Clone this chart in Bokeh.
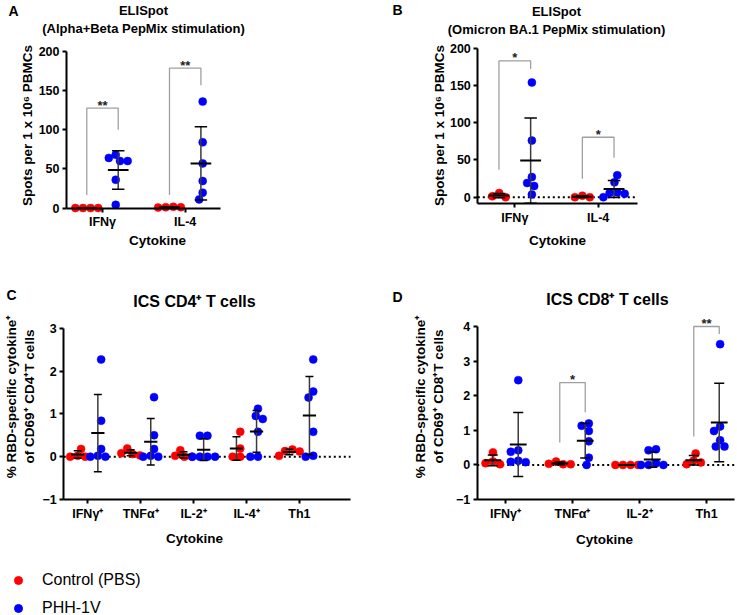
import math
import numpy as np
from bokeh.plotting import figure
from bokeh.models import (ColumnDataSource, Label, FixedTicker, Range1d,
                          Legend, LegendItem)
from bokeh.layouts import column, row
from bokeh.core.properties import value
from bokeh.embed import file_html
from bokeh.resources import INLINE

# ---------------- data ----------------
groups = ["Control (PBS)", "PHH-1V"]

# A: ELISpot, Alpha+Beta PepMix
a_categories = ["IFNγ", "IL-4"]
a_ifng_pbs = [0, 0, 0, 0]
a_ifng_phh = [60, 68, 60, 64, 36, 4]
a_il4_pbs = [1, 0.5, 1.5, 1]
a_il4_phh = [136, 84, 57, 34.5, 19.6, 11]
a_yticks = [0, 50, 100, 150, 200]
a_sig_cat = [1, 2]
a_sig_top = [127.7, 178.7]
a_sig_left = [16.6, 16.6]
a_sig_right = [100, 157]
a_sig_text = ["**", "**"]

# B: ELISpot, Omicron BA.1 PepMix
b_categories = ["IFNγ", "IL-4"]
b_ifng_pbs = [0, 5.5, 1.2]
b_ifng_phh = [154, 76, 27, 19, 15, 3.6]
b_il4_pbs = [0, 2, 0]
b_il4_phh = [29.5, 20, 6.3, 5.8, 4.5, 0]
b_yticks = [0, 50, 100, 150, 200]
b_sig_cat = [1, 2]
b_sig_top = [183, 80.5]
b_sig_left = [36.7, 24.6]
b_sig_right = [172, 52.8]
b_sig_text = ["*", "*"]

# C: ICS CD4+ T cells
c_categories = ["IFNγ⁺", "TNFα⁺", "IL-2⁺", "IL-4⁺", "Th1"]
c_ifng_pbs = [0, 0.18, 0.02, 0]
c_ifng_phh = [2.27, 0.84, 0.18, 0.02, 0, 0]
c_tnfa_pbs = [0.19, 0.03, 0.06, 0.08]
c_tnfa_phh = [1.39, 0.5, 0.18, 0.02, 0, 0]
c_il2_pbs = [0.15, 0, 0.02, 0]
c_il2_phh = [0.49, 0.49, 0, 0, 0, 0]
c_il4_pbs = [0.58, 0.19, 0, 0]
c_il4_phh = [1.12, 0.95, 0.88, 0.58, 0, 0]
c_th1_pbs = [0.17, 0.13, 0.02, 0.12]
c_th1_phh = [2.27, 1.52, 1.38, 0.58, 0.02, 0]
c_yticks = [-1, 0, 1, 2, 3]

# D: ICS CD8+ T cells
d_categories = ["IFNγ⁺", "TNFα⁺", "IL-2⁺", "Th1"]
d_ifng_pbs = [0.36, 0.1, 0.02, 0.05]
d_ifng_phh = [2.45, 0.42, 0.38, 0.12, 0.08, 0.09]
d_tnfa_pbs = [0.1, 0.02, 0.03, 0.02]
d_tnfa_phh = [1.2, 1.13, 0.98, 0.68, 0.21, 0.0]
d_il2_pbs = [0, 0, 0, 0]
d_il2_phh = [0.45, 0.42, 0.05, 0, 0, 0]
d_th1_pbs = [0.33, 0.12, 0.02, 0.07]
d_th1_phh = [3.49, 1.11, 0.98, 0.71, 0.53, 0.53]
d_yticks = [-1, 0, 1, 2, 3, 4]
d_sig_cat = [2, 4]
d_sig_top = [2.38, 4.0]
d_sig_left = [0.65, 0.82]
d_sig_right = [1.52, 3.78]
d_sig_text = ["*", "**"]

# ---------------- styling ----------------
RED = "#ff0000"
BLUE = "#0000ff"
FONT = "Liberation Sans"
GROUP_OFF = 0.19
DOT = 8


def swarm_offsets(vals, ypx, d):
    n = len(vals)
    order = sorted(range(n), key=lambda i: -vals[i])
    placed = []
    offs = [0.0] * n
    for i in order:
        y = vals[i] * ypx
        cands = [0.0]
        for xj, yj in placed:
            dy = abs(y - yj)
            if dy < d:
                dx = math.sqrt(d * d - dy * dy)
                cands += [xj - dx, xj + dx]
        cands.sort(key=lambda c: (abs(c), c))
        for c in cands:
            if all((c - xj) ** 2 + (y - yj) ** 2 >= d * d - 1e-6 for xj, yj in placed):
                offs[i] = c
                break
        placed.append((offs[i], y))
    shift = (max(offs) + min(offs)) / 2
    return [o - shift for o in offs]


def build_panel(spec):
    ox, oy, w, h = spec["box"]
    xpx, tick1 = spec["xpx"], spec["tick1"]
    ypx, yzero = spec["ypx"], spec["yzero"]
    x_start = 1 - (tick1 - ox) / xpx
    x_end = x_start + w / xpx
    y_end = (yzero - oy) / ypx
    y_start = y_end - h / ypx
    yaxis_x = 1 - (tick1 - spec["axis_left"]) / xpx
    xaxis_end = 1 + (spec["axis_right"] - tick1) / xpx
    ylo, yhi = spec["ybounds"]

    p = figure(width=w, height=h, output_backend="svg", toolbar_location=None,
               x_range=Range1d(x_start, x_end), y_range=Range1d(y_start, y_end),
               min_border=0, title=None)
    p.outline_line_color = None
    p.grid.visible = False
    p.background_fill_color = "white"
    p.border_fill_color = "white"

    for ax in (p.xaxis[0], p.yaxis[0]):
        ax.axis_line_width = 2
        ax.axis_line_color = "black"
        ax.major_tick_line_width = 2
        ax.major_tick_line_color = "black"
        ax.major_tick_in = 0
        ax.major_tick_out = 4
        ax.minor_tick_line_color = None
        ax.major_label_text_font = FONT
        ax.major_label_text_font_style = "bold"
        ax.major_label_text_font_size = "12.5px"
        ax.major_label_text_color = "black"
        ax.major_label_standoff = 3
    cats = spec["cats"]
    p.xaxis.ticker = FixedTicker(ticks=list(range(1, len(cats) + 1)))
    p.xaxis.major_label_overrides = {i + 1: c for i, c in enumerate(cats)}
    p.xaxis.fixed_location = ylo
    p.xaxis.bounds = (yaxis_x, xaxis_end)
    p.yaxis.ticker = FixedTicker(ticks=spec["yticks"])
    p.yaxis.fixed_location = yaxis_x
    p.yaxis.bounds = (ylo, yhi)

    if spec["zero"]:
        p.segment(x0=[yaxis_x], y0=[0], x1=[xaxis_end], y1=[0], line_color="black",
                  line_width=2, line_dash="2 3", level="underlay")

    # points
    eb = dict(xg=[], mean=[], lo=[], hi=[])
    for gi, (color, off) in enumerate([(RED, -GROUP_OFF), (BLUE, GROUP_OFF)]):
        xs, ys = [], []
        for ci, pair in enumerate(spec["data"]):
            vals = pair[gi]
            xc = ci + 1 + off
            so = swarm_offsets(vals, ypx, DOT * 0.95)
            xs += [xc + s / xpx for s in so]
            ys += list(vals)
            arr = np.array(vals, dtype=float)
            m = float(arr.mean())
            sd = float(arr.std(ddof=1))
            eb["xg"].append(xc)
            eb["mean"].append(m)
            eb["lo"].append(m - sd)
            eb["hi"].append(m + sd)
        p.scatter(x=xs, y=ys, size=DOT, fill_color=color, line_color=color, line_width=0.5)

    src = ColumnDataSource(dict(
        xg=eb["xg"], mean=eb["mean"], lo=eb["lo"], hi=eb["hi"],
        xm0=[x - 0.125 for x in eb["xg"]], xm1=[x + 0.125 for x in eb["xg"]],
        xc0=[x - 0.075 for x in eb["xg"]], xc1=[x + 0.075 for x in eb["xg"]],
    ))
    p.segment(x0="xg", y0="lo", x1="xg", y1="hi", source=src, line_color="#3a3a3a", line_width=1.5)
    p.segment(x0="xc0", y0="hi", x1="xc1", y1="hi", source=src, line_color="black", line_width=1.5)
    p.segment(x0="xc0", y0="lo", x1="xc1", y1="lo", source=src, line_color="black", line_width=1.5)
    p.segment(x0="xm0", y0="mean", x1="xm1", y1="mean", source=src, line_color="black", line_width=2)

    # significance brackets
    sig = spec.get("sig")
    if sig:
        cat, top, left, right, txt = sig
        bxs, bys, tx = [], [], []
        for c, tp, lb, rb in zip(cat, top, left, right):
            xl, xr = c - GROUP_OFF, c + GROUP_OFF
            bxs.append([xl, xl, xr, xr])
            bys.append([lb, tp, tp, rb])
            tx.append(c)
        p.multi_line(xs=bxs, ys=bys, line_color="#a0a0a0", line_width=1.3)
        p.text(x=tx, y=list(top), text=list(txt), text_font=value(FONT), text_font_style="bold",
               text_font_size="13px", text_align="center", text_baseline="alphabetic",
               y_offset=-3, text_color="#222222")

    # texts: page positions converted to the panel's data coordinates
    for (tx_, X, Y, size, angle, lh) in spec["labels"]:
        xd = x_start + (X - ox) / xpx
        yd = y_end - (Y - oy) / ypx
        p.add_layout(Label(x=xd, y=yd, text=tx_,
                           angle=angle, text_font=FONT, text_font_style="bold",
                           text_font_size=size, text_align="center", text_baseline="middle",
                           text_line_height=lh, text_color="black"))
    return p


A = build_panel(dict(
    box=(0, 0, 368, 283), xpx=82.7, tick1=102, ypx=0.7825, yzero=207.5,
    axis_left=66, axis_right=220, ybounds=(0, 200), zero=False,
    cats=a_categories, yticks=a_yticks,
    data=[(a_ifng_pbs, a_ifng_phh), (a_il4_pbs, a_il4_phh)],
    sig=(a_sig_cat, a_sig_top, a_sig_left, a_sig_right, a_sig_text),
    labels=[("A", 13, 10, "14px", 0, 1.2),
            ("ELISpot\n(Alpha+Beta PepMix stimulation)", 143, 19, "13px", 0, 1.15),
            ("Spots per 1 x 10⁶ PBMCs", 27, 125, "13.5px", math.pi / 2, 1.2),
            ("Cytokine", 157, 240, "13.5px", 0, 1.2)],
))

B = build_panel(dict(
    box=(368, 0, 369, 283), xpx=83.4, tick1=514.3, ypx=0.745, yzero=196.7,
    axis_left=477.3, axis_right=636.5, ybounds=(-8.9, 200), zero=True,
    cats=b_categories, yticks=b_yticks,
    data=[(b_ifng_pbs, b_ifng_phh), (b_il4_pbs, b_il4_phh)],
    sig=(b_sig_cat, b_sig_top, b_sig_left, b_sig_right, b_sig_text),
    labels=[("B", 397, 9, "14px", 0, 1.2),
            ("ELISpot\n(Omicron BA.1 PepMix stimulation)", 556, 20, "13px", 0, 1.15),
            ("Spots per 1 x 10⁶ PBMCs", 439, 125, "13.5px", math.pi / 2, 1.2),
            ("Cytokine", 557, 240, "13.5px", 0, 1.2)],
))

C = build_panel(dict(
    box=(0, 283, 368, 332), xpx=52.9, tick1=87.3, ypx=42.83, yzero=456.17,
    axis_left=63.3, axis_right=350, ybounds=(-1, 3), zero=True,
    cats=c_categories, yticks=c_yticks,
    data=[(c_ifng_pbs, c_ifng_phh), (c_tnfa_pbs, c_tnfa_phh), (c_il2_pbs, c_il2_phh),
          (c_il4_pbs, c_il4_phh), (c_th1_pbs, c_th1_phh)],
    sig=None,
    labels=[("C", 11, 294, "14px", 0, 1.2),
            ("ICS CD4⁺ T cells", 194, 301, "16px", 0, 1.2),
            ("% RBD-specific cytokine⁺\nof CD69⁺ CD4⁺T cells", 20, 396, "13.5px", math.pi / 2, 1.25),
            ("Cytokine", 194, 538, "13.5px", 0, 1.2)],
))

D = build_panel(dict(
    box=(368, 283, 369, 332), xpx=67, tick1=505, ypx=34.6, yzero=464.4,
    axis_left=476.7, axis_right=734, ybounds=(-1, 4), zero=True,
    cats=d_categories, yticks=d_yticks,
    data=[(d_ifng_pbs, d_ifng_phh), (d_tnfa_pbs, d_tnfa_phh), (d_il2_pbs, d_il2_phh),
          (d_th1_pbs, d_th1_phh)],
    sig=(d_sig_cat, d_sig_top, d_sig_left, d_sig_right, d_sig_text),
    labels=[("D", 397, 296, "14px", 0, 1.2),
            ("ICS CD8⁺ T cells", 607, 299, "16px", 0, 1.2),
            ("% RBD-specific cytokine⁺\nof CD69⁺ CD8⁺T cells", 429, 396, "13.5px", math.pi / 2, 1.25),
            ("Cytokine", 604, 539, "13.5px", 0, 1.2)],
))

# legend (inside panel C's canvas, at the bottom left)
r_pbs = C.scatter(x=[np.nan], y=[np.nan], size=DOT, fill_color=RED, line_color=RED)
r_phh = C.scatter(x=[np.nan], y=[np.nan], size=DOT, fill_color=BLUE, line_color=BLUE)
leg = Legend(items=[LegendItem(label=groups[0], renderers=[r_pbs]),
                    LegendItem(label=groups[1], renderers=[r_phh])],
             location=(8, -3), border_line_color=None, background_fill_alpha=0,
             padding=0, margin=0, spacing=8, glyph_width=20, glyph_height=20,
             label_height=20, label_standoff=14, label_text_font=FONT,
             label_text_font_size="16px", label_text_color="black")
C.add_layout(leg)

layout = column(row(A, B), row(C, D))
open("out.html", "w").write(file_html(layout, INLINE))
